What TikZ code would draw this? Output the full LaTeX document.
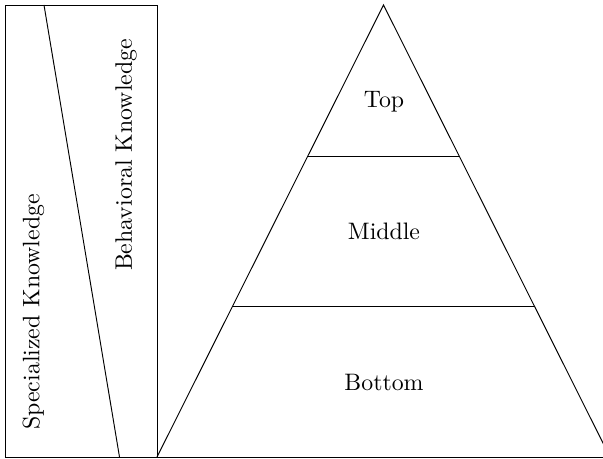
\documentclass[tikz,border=0pt]{standalone}
\begin{document}
\begin{tikzpicture}[x=0.42pt,y=-0.42pt,
  lbl/.style={inner sep=0pt, font=\normalsize},
  vlbl/.style={lbl, rotate=90},
  edge/.style={draw=black, line width=0.4pt}]
\useasboundingbox (0,0) rectangle (603,458);
\clip (0,0) rectangle (603,458);
% coordinates
\coordinate (rtl) at (5,5);
\coordinate (rbr) at (157,457);
\coordinate (dtop) at (44,5);
\coordinate (dbot) at (119.5,457);
\coordinate (apex) at (383.5,5);
\coordinate (bl) at (157,457);
\coordinate (br) at (610,457);
\coordinate (m1l) at (308.1,156);
\coordinate (m1r) at (458.9,156);
\coordinate (m2l) at (232.7,306);
\coordinate (m2r) at (534.3,306);
% left panel
\draw[edge] (rtl) rectangle (rbr);
\draw[edge] (dtop) -- (dbot);
% pyramid
\draw[edge] (bl) -- (apex) -- (br);
\draw[edge] (5,457) -- (603,457);
\draw[edge] (m1l) -- (m1r);
\draw[edge] (m2l) -- (m2r);
% labels
\node[vlbl] (spec) at (33.5,312) {Specialized Knowledge};
\node[vlbl] (behav) at (126,155) {Behavioral Knowledge};
\node[lbl] (top) at (384,102) {Top};
\node[lbl] (mid) at (384,231.5) {Middle};
\node[lbl] (bot) at (384,382) {Bottom};
\end{tikzpicture}
\end{document}
